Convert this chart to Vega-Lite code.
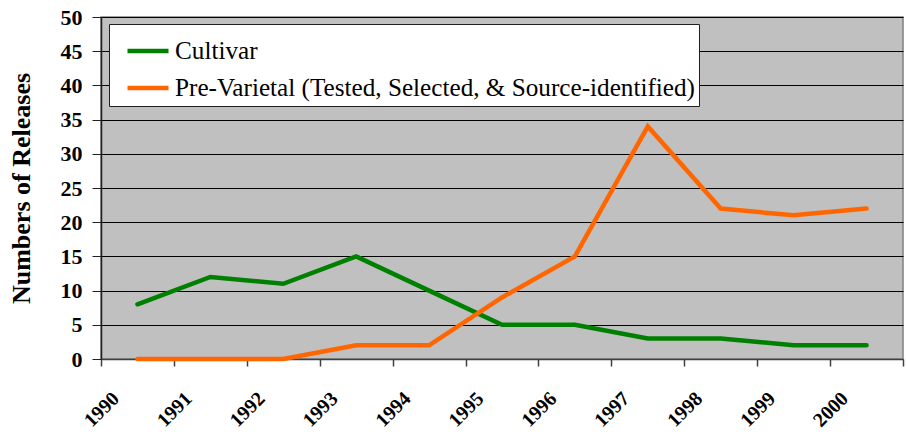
{
  "$schema": "https://vega.github.io/schema/vega-lite/v6.json",
  "width": 802,
  "height": 342,
  "autosize": {"type": "none"},
  "padding": {"left": 101, "top": 17, "right": 3, "bottom": 75},
  "background": "white",
  "config": {
    "view": {"fill": "#C0C0C0", "stroke": "#808080", "strokeWidth": 1.5}
  },
  "data": {
    "values": [
      {"year": "1990", "series": "Cultivar", "n": 8},
      {"year": "1991", "series": "Cultivar", "n": 12},
      {"year": "1992", "series": "Cultivar", "n": 11},
      {"year": "1993", "series": "Cultivar", "n": 15},
      {"year": "1994", "series": "Cultivar", "n": 10},
      {"year": "1995", "series": "Cultivar", "n": 5},
      {"year": "1996", "series": "Cultivar", "n": 5},
      {"year": "1997", "series": "Cultivar", "n": 3},
      {"year": "1998", "series": "Cultivar", "n": 3},
      {"year": "1999", "series": "Cultivar", "n": 2},
      {"year": "2000", "series": "Cultivar", "n": 2},
      {"year": "1990", "series": "Pre-Varietal (Tested, Selected, & Source-identified)", "n": 0},
      {"year": "1991", "series": "Pre-Varietal (Tested, Selected, & Source-identified)", "n": 0},
      {"year": "1992", "series": "Pre-Varietal (Tested, Selected, & Source-identified)", "n": 0},
      {"year": "1993", "series": "Pre-Varietal (Tested, Selected, & Source-identified)", "n": 2},
      {"year": "1994", "series": "Pre-Varietal (Tested, Selected, & Source-identified)", "n": 2},
      {"year": "1995", "series": "Pre-Varietal (Tested, Selected, & Source-identified)", "n": 9},
      {"year": "1996", "series": "Pre-Varietal (Tested, Selected, & Source-identified)", "n": 15},
      {"year": "1997", "series": "Pre-Varietal (Tested, Selected, & Source-identified)", "n": 34},
      {"year": "1998", "series": "Pre-Varietal (Tested, Selected, & Source-identified)", "n": 22},
      {"year": "1999", "series": "Pre-Varietal (Tested, Selected, & Source-identified)", "n": 21},
      {"year": "2000", "series": "Pre-Varietal (Tested, Selected, & Source-identified)", "n": 22}
    ]
  },
  "mark": {"type": "line", "strokeWidth": 4.5, "strokeCap": "round", "strokeJoin": "miter"},
  "encoding": {
    "x": {
      "field": "year",
      "type": "ordinal",
      "scale": {"type": "band", "paddingInner": 0, "paddingOuter": 0},
      "axis": {
        "title": null,
        "labelAngle": -45,
        "labelFont": "Liberation Serif",
        "labelFontWeight": "bold",
        "labelFontSize": 20,
        "labelColor": "black",
        "labelOffset": -29,
        "labelPadding": 22,
        "domainColor": "#404040",
        "domainWidth": 1.5,
        "tickColor": "#404040",
        "tickSize": 7,
        "tickWidth": 1.5,
        "tickBand": "extent",
        "grid": false
      }
    },
    "y": {
      "field": "n",
      "type": "quantitative",
      "scale": {"domain": [0, 50], "nice": false, "zero": true},
      "axis": {
        "title": "Numbers of Releases",
        "titleFont": "Liberation Serif",
        "titleFontWeight": "bold",
        "titleFontSize": 26,
        "titleColor": "black",
        "titlePadding": 26,
        "values": [0, 5, 10, 15, 20, 25, 30, 35, 40, 45, 50],
        "labelFont": "Liberation Serif",
        "labelFontWeight": "bold",
        "labelFontSize": 22,
        "labelColor": "black",
        "labelPadding": 10,
        "domainColor": "#202020",
        "domainWidth": 1.5,
        "tickColor": "#202020",
        "tickSize": 9,
        "grid": true,
        "gridColor": "black",
        "gridWidth": 1,
        "gridOpacity": 1
      }
    },
    "color": {
      "field": "series",
      "type": "nominal",
      "scale": {
        "domain": ["Cultivar", "Pre-Varietal (Tested, Selected, & Source-identified)"],
        "range": ["#008000", "#FF6600"]
      },
      "legend": {
        "title": null,
        "orient": "none",
        "legendX": 8,
        "legendY": 7,
        "fillColor": "white",
        "strokeColor": "#202020",
        "padding": 4,
        "symbolType": "stroke",
        "symbolSize": 1681,
        "symbolStrokeWidth": 4.5,
        "symbolOffset": 12,
        "labelFont": "Liberation Serif",
        "labelFontSize": 25.2,
        "labelColor": "black",
        "labelOffset": 4,
        "labelLimit": 700,
        "rowPadding": 0
      }
    }
  }
}
